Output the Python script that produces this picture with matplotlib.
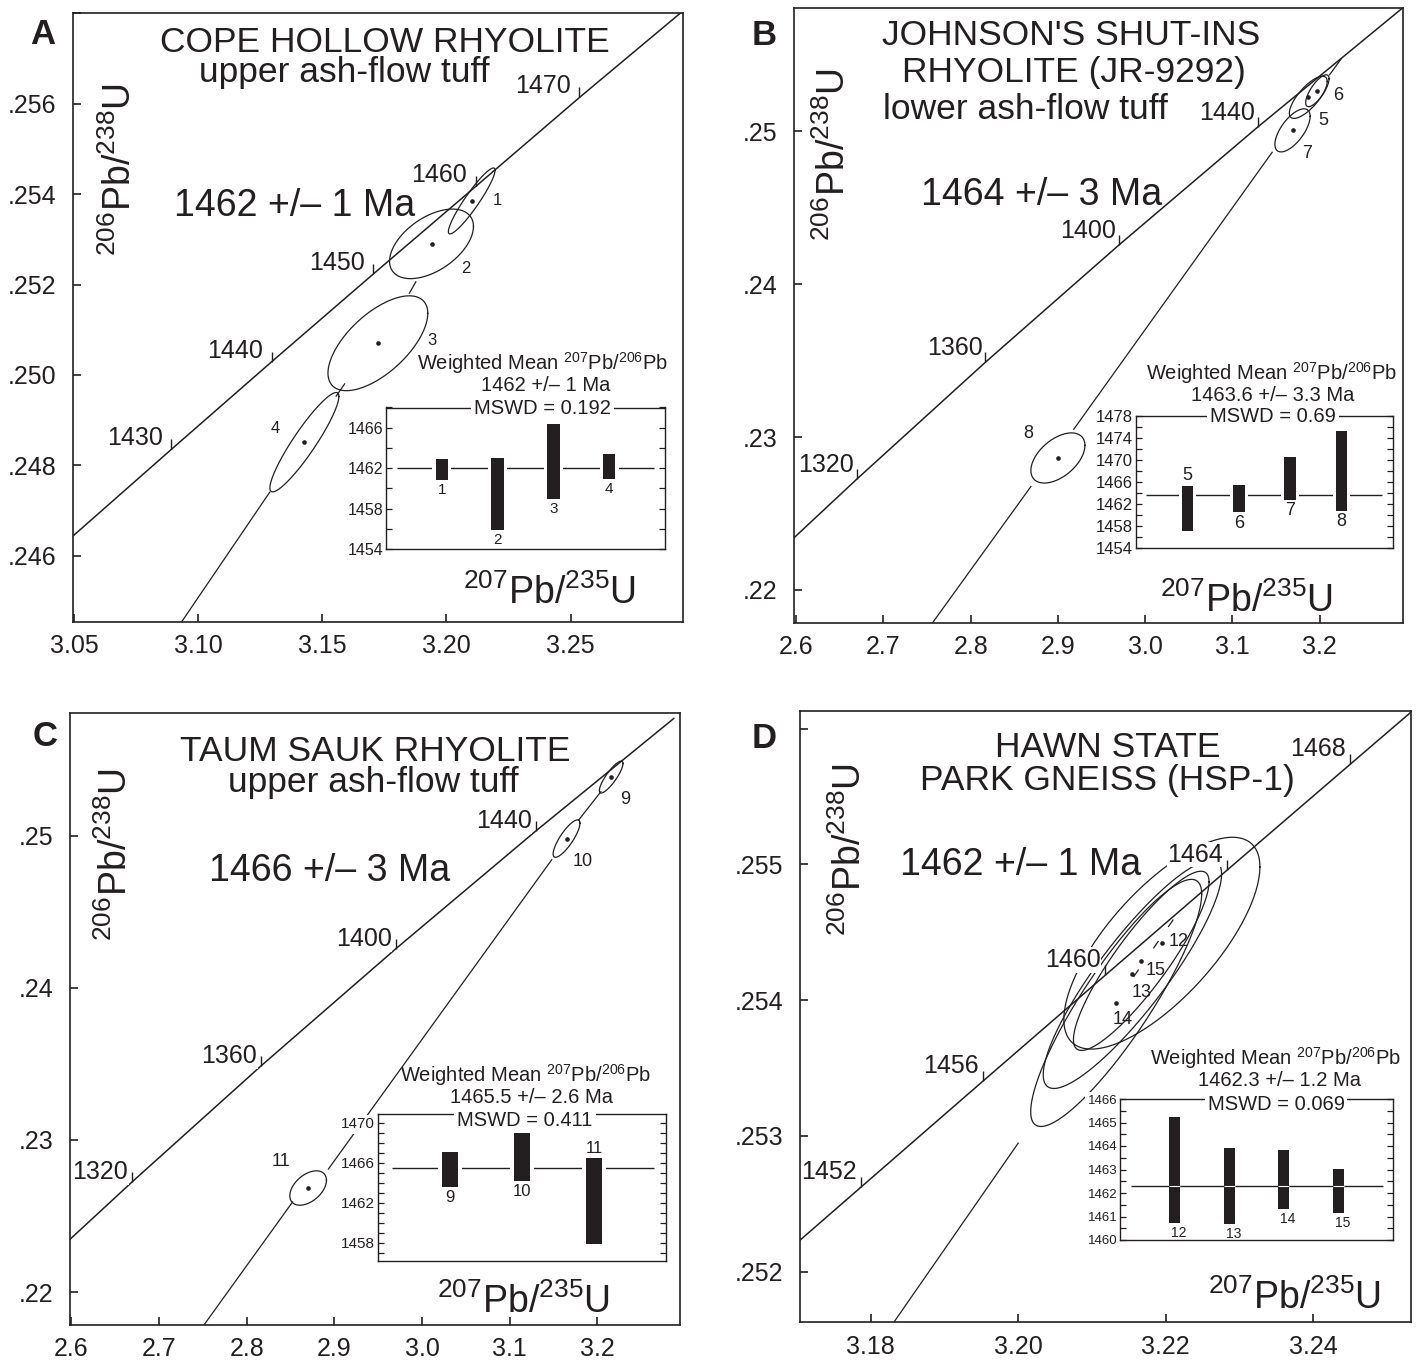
import numpy as np
import matplotlib.pyplot as plt

plt.rcParams['font.family'] = ['Liberation Sans', 'DejaVu Sans']
plt.rcParams['mathtext.fontset'] = 'custom'
plt.rcParams['mathtext.rm'] = 'Liberation Sans'
plt.rcParams['mathtext.it'] = 'Liberation Sans:italic'
plt.rcParams['mathtext.bf'] = 'Liberation Sans:bold'

INK = '#231f20'
W, H = 1419, 1360

# ---------------- A  Cope Hollow Rhyolite ----------------
a_ages = [1430, 1440, 1450, 1460, 1470]
a_age_x = [3.0892, 3.1296, 3.1705, 3.2118, 3.2536]
a_age_y = [0.24835, 0.25029, 0.25223, 0.25417, 0.25614]
a_end_x = [3.0491, 3.2956]
a_end_y = [0.24641, 0.25807]
a_ids = ['1', '2', '3', '4']
a_cx = [3.2102, 3.1940, 3.1724, 3.1428]
a_cy = [0.25385, 0.25290, 0.25070, 0.24851]
a_sx = [0.0094, 0.0169, 0.0201, 0.0139]
a_sy = [0.00073, 0.00077, 0.00105, 0.00110]
a_rho = [0.93, 0.5, 0.63, 0.92]
a_disc_x = [[3.088, 3.1288], [3.1556, 3.1590], [3.1851, 3.1877]]
a_disc_y = [[0.24410, 0.24740], [0.24953, 0.24980], [0.25181, 0.25206]]
a_lo = [1460.8, 1455.9, 1458.9, 1460.9]
a_hi = [1462.9, 1463.0, 1466.4, 1463.4]
a_mean = 1462

# ---------------- B  Johnson's Shut-ins ----------------
b_ages = [1320, 1360, 1400, 1440]
b_age_x = [2.6693, 2.8167, 2.9701, 3.1296]
b_age_y = [0.22724, 0.23488, 0.24256, 0.25029]
b_end_x = [2.5801, 3.2956]
b_end_y = [0.22249, 0.25807]
b_ids = ['5', '6', '7', '8']
b_cx = [3.1871, 3.1975, 3.1690, 2.9000]
b_cy = [0.25221, 0.25264, 0.25005, 0.22863]
b_sx = [0.0217, 0.0134, 0.0202, 0.0310]
b_sy = [0.00138, 0.00104, 0.00141, 0.00164]
b_rho = [0.75, 0.75, 0.65, 0.5]
b_disc_x = [[2.740, 2.8690], [2.9181, 3.1457], [3.2115, 3.2245]]
b_disc_y = [[0.21657, 0.22676], [0.23050, 0.24862], [0.25368, 0.25470]]
b_lo = [1457.1, 1460.5, 1462.8, 1460.8]
b_hi = [1465.3, 1465.4, 1470.6, 1475.2]
b_mean = 1463.6

# ---------------- C  Taum Sauk Rhyolite ----------------
c_ages = [1320, 1360, 1400, 1440]
c_age_x = [2.6693, 2.8167, 2.9701, 3.1296]
c_age_y = [0.22724, 0.23488, 0.24256, 0.25029]
c_end_x = [2.5801, 3.2871]
c_end_y = [0.22249, 0.25769]
c_ids = ['9', '10', '11']
c_cx = [3.2157, 3.1648, 2.8701]
c_cy = [0.25384, 0.24980, 0.22684]
c_sx = [0.0135, 0.0153, 0.0209]
c_sy = [0.00105, 0.00123, 0.00113]
c_rho = [0.85, 0.82, 0.45]
c_disc_x = [[2.740, 2.8523], [2.8931, 3.1479], [3.1785, 3.2040]]
c_disc_y = [[0.21694, 0.22592], [0.22808, 0.24841], [0.25101, 0.25288]]
c_lo = [1463.6, 1464.2, 1457.9]
c_hi = [1467.1, 1469.2, 1466.5]
c_mean = 1465.5

# ---------------- D  Hawn State Park Gneiss ----------------
d_ages = [1452, 1456, 1460, 1464, 1468]
d_age_x = [3.17871, 3.19520, 3.21177, 3.22839, 3.24508]
d_age_y = [0.252625, 0.253403, 0.254182, 0.254960, 0.255739]
d_end_x = [3.16228, 3.26183]
d_end_y = [0.251849, 0.256519]
d_ids = ['12', '13', '14', '15']
d_cx = [3.2195, 3.2155, 3.2133, 3.2167]
d_cy = [0.25442, 0.25419, 0.25398, 0.25429]
d_sx = [0.0133, 0.0121, 0.0116, 0.0092]
d_sy = [0.00078, 0.00084, 0.00091, 0.00066]
d_rho = [0.72, 0.88, 0.88, 0.88]
d_disc_x = [[3.1800, 3.2000], [3.2157, 3.2163], [3.2184, 3.2190], [3.2204, 3.2210]]
d_disc_y = [[0.251383, 0.252947], [0.254175, 0.254222], [0.254386, 0.254433], [0.254543, 0.254590]]
d_lo = [1460.72, 1460.67, 1461.33, 1461.14]
d_hi = [1465.24, 1463.90, 1463.81, 1463.01]
d_mean = 1462.3

YLAB = r'$^{206}$Pb/$^{238}$U'
XLAB = r'$^{207}$Pb/$^{235}$U'
WMEAN = r'Weighted Mean $^{207}$Pb/$^{206}$Pb'

fig = plt.figure(figsize=(W / 100, H / 100), dpi=100)


def box(l, r, t, b):
    return [l / W, 1 - b / H, (r - l) / W, (b - t) / H]


def put(px, py, s, size, **kw):
    kw.setdefault('ha', 'center')
    kw.setdefault('va', 'baseline')
    fig.text(px / W, 1 - py / H, s, fontsize=size, color=INK, **kw)


def frame(rect, xlim, ylim, xt, xl, yt, yl):
    ax = fig.add_axes(rect)
    ax.set_xlim(xlim)
    ax.set_ylim(ylim)
    ax.set_xticks(xt, xl)
    ax.set_yticks(yt, yl)
    ax.tick_params(direction='in', length=6, width=1.2, labelsize=18,
                   colors=INK, top=False, right=False)
    ax.tick_params(axis='x', pad=9)
    ax.tick_params(axis='y', pad=12)
    for s in ax.spines.values():
        s.set_linewidth(1.2)
        s.set_color(INK)
    return ax


tt = np.linspace(0, 2 * np.pi, 300)


def draw_diagram(ax, ages, ax_x, ax_y, ex, ey, cx, cy, sx, sy, rho, dx, dy, off):
    ax.plot([ex[0]] + ax_x + [ex[1]], [ey[0]] + ax_y + [ey[1]], color=INK, lw=1.1, zorder=2)
    ax.plot(ax_x, ax_y, ls='none', marker=2, ms=7, mew=1.0, color=INK, zorder=2)
    for a, x, y in zip(ages, ax_x, ax_y):
        ax.annotate(str(a), (x, y), xytext=off, textcoords='offset points',
                    ha='right', va='baseline', fontsize=18, color=INK, zorder=5,
                    bbox=dict(fc='white', ec='none', pad=0.5))
    for xs, ys in zip(dx, dy):
        ax.plot(xs, ys, color=INK, lw=0.9, zorder=2)
    for x0, y0, a, b, r in zip(cx, cy, sx, sy, rho):
        ax.plot(x0 + a * np.cos(tt), y0 + b * (r * np.cos(tt) + np.sqrt(1 - r * r) * np.sin(tt)),
                color=INK, lw=0.9, zorder=3)
        ax.plot(x0, y0, 'o', ms=2.3, color=INK, zorder=4)


def inset(rect, ylim, yt, minor, lo, hi, mean, ids, xmax, width, line_x,
          tick_fs, id_fs, above=(), cross=False, id_dx=0):
    ax = fig.add_axes(rect)
    ax.set_xlim(0, xmax)
    ax.set_ylim(ylim)
    ax.set_xticks([])
    ax.set_yticks(yt, [str(v) for v in yt])
    ax.set_yticks(minor, minor=True)
    ax.tick_params(axis='y', which='both', direction='in', left=True, right=True,
                   length=4, width=0.9, colors=INK, labelsize=tick_fs, pad=2)
    for lab in ax.get_yticklabels():
        lab.set_bbox(dict(fc='white', ec='none', pad=1.5))
    for s in ax.spines.values():
        s.set_linewidth(1.0)
        s.set_color(INK)
    pos = np.arange(1, len(lo) + 1)
    h = np.array(hi) - np.array(lo)
    ax.hlines(mean, line_x[0], line_x[1], color=INK, lw=1.0, zorder=1)
    if not cross:
        ax.bar(pos, h, bottom=lo, width=width + 0.12, color='white', zorder=2)
    ax.bar(pos, h, bottom=lo, width=width, color=INK, zorder=3)
    if cross:
        ax.hlines([mean] * len(pos), pos - width / 2, pos + width / 2,
                  color='white', lw=0.8, zorder=4)
    for p, s, l, u in zip(pos, ids, lo, hi):
        if s in above:
            ax.annotate(s, (p, u), xytext=(id_dx, 1), textcoords='offset points',
                        ha='center', va='bottom', fontsize=id_fs, color=INK)
        else:
            ax.annotate(s, (p, l), xytext=(id_dx, -2), textcoords='offset points',
                        ha='center', va='top', fontsize=id_fs, color=INK)
    return ax


# ======================= panel A =======================
axA = frame(box(73, 683, 13, 622), (3.0496, 3.2953), (0.24453, 0.25801),
            [3.05, 3.10, 3.15, 3.20, 3.25], ['3.05', '3.10', '3.15', '3.20', '3.25'],
            [0.246, 0.248, 0.250, 0.252, 0.254, 0.256, 0.258],
            ['.246', '.248', '.250', '.252', '.254', '.256', ''])
draw_diagram(axA, a_ages, a_age_x, a_age_y, a_end_x, a_end_y, a_cx, a_cy, a_sx, a_sy,
             a_rho, a_disc_x, a_disc_y, (-6, 3))
for s, x, y in zip(a_ids, [3.2206, 3.2080, 3.1941, 3.1310], [0.25386, 0.25236, 0.25077, 0.24882]):
    axA.text(x, y, s, fontsize=12, color=INK, ha='center', va='center')
put(43, 43.5, 'A', 25, fontweight='bold')
put(385, 52, 'COPE HOLLOW RHYOLITE', 25.5)
put(344, 82, 'upper ash-flow tuff', 25.5)
put(295, 216, '1462 +/\u2013 1 Ma', 27)
put(120, 170, YLAB, 27, rotation=90, va='center')
put(549, 593, XLAB, 27, va='center')
inset(box(386, 665, 407.5, 549), (1454, 1468), [1454, 1458, 1462, 1466],
      np.arange(1454, 1469, 2), a_lo, a_hi, a_mean, a_ids, 5, 0.22, (0.2, 4.8), 11.5, 11)
put(543, 363, WMEAN, 14.5, va='center')
put(546, 385.5, '1462 +/\u2013 1 Ma', 14.5, va='center')
put(542.5, 408, 'MSWD = 0.192', 14.5, va='center', bbox=dict(fc='white', ec='none', pad=2))

# ======================= panel B =======================
axB = frame(box(794, 1403, 8, 623), (2.5974, 3.2957), (0.21784, 0.25805),
            [2.6, 2.7, 2.8, 2.9, 3.0, 3.1, 3.2], ['2.6', '2.7', '2.8', '2.9', '3.0', '3.1', '3.2'],
            [0.22, 0.23, 0.24, 0.25], ['.22', '.23', '.24', '.25'])
draw_diagram(axB, b_ages, b_age_x, b_age_y, b_end_x, b_end_y, b_cx, b_cy, b_sx, b_sy,
             b_rho, b_disc_x, b_disc_y, (-2, 5))
for s, x, y in zip(b_ids, [3.2042, 3.2218, 3.1855, 2.8664], [0.25069, 0.25230, 0.24856, 0.23021]):
    axB.text(x, y, s, fontsize=13, color=INK, ha='center', va='center')
put(764, 45, 'B', 25, fontweight='bold')
put(1071, 45, "JOHNSON'S SHUT-INS", 25.5)
put(1074, 82, 'RHYOLITE (JR-9292)', 25.5)
put(1025, 119, 'lower ash-flow tuff', 25.5)
put(1042, 205, '1464 +/\u2013 3 Ma', 27)
put(834, 155, YLAB, 27, rotation=90, va='center')
put(1246, 601, XLAB, 27, va='center')
inset(box(1136, 1393, 416, 548), (1454, 1478), list(range(1454, 1479, 4)),
      np.arange(1454, 1479, 2), b_lo, b_hi, b_mean, b_ids, 5, 0.225, (0.2, 4.78), 12, 13,
      above=('5',))
put(1272, 373, WMEAN, 14.5, va='center')
put(1273, 395, '1463.6 +/\u2013 3.3 Ma', 14.5, va='center')
put(1273, 417, 'MSWD = 0.69', 14.5, va='center', bbox=dict(fc='white', ec='none', pad=2))

# ======================= panel C =======================
axC = frame(box(70, 680, 713, 1325), (2.5985, 3.2942), (0.21784, 0.25805),
            [2.6, 2.7, 2.8, 2.9, 3.0, 3.1, 3.2], ['2.6', '2.7', '2.8', '2.9', '3.0', '3.1', '3.2'],
            [0.22, 0.23, 0.24, 0.25], ['.22', '.23', '.24', '.25'])
draw_diagram(axC, c_ages, c_age_x, c_age_y, c_end_x, c_end_y, c_cx, c_cy, c_sx, c_sy,
             c_rho, c_disc_x, c_disc_y, (-3, 2))
for s, x, y in zip(c_ids, [3.232, 3.1836, 2.8396], [0.25236, 0.24827, 0.22857]):
    axC.text(x, y, s, fontsize=13, color=INK, ha='center', va='center')
put(45, 746, 'C', 25, fontweight='bold')
put(375, 761, 'TAUM SAUK RHYOLITE', 25.5)
put(373, 792, 'upper ash-flow tuff', 25.5)
put(330, 881, '1466 +/\u2013 3 Ma', 27)
put(116, 855, YLAB, 27, rotation=90, va='center')
put(523, 1302, XLAB, 27, va='center')
inset(box(378, 666, 1114, 1261), (1456.15, 1470.9), [1458, 1462, 1466, 1470],
      np.arange(1457, 1471, 1), c_lo, c_hi, c_mean, c_ids, 4, 0.21, (0.2, 3.83), 11, 12,
      above=('11',))
put(526, 1075, WMEAN, 14.5, va='center')
put(531, 1097.5, '1465.5 +/\u2013 2.6 Ma', 14.5, va='center')
put(525, 1121, 'MSWD = 0.411', 14.5, va='center', bbox=dict(fc='white', ec='none', pad=2))

# ======================= panel D =======================
axD = frame(box(800, 1411, 711, 1322), (3.1704, 3.2533), (0.25163, 0.25613),
            [3.18, 3.20, 3.22, 3.24], ['3.18', '3.20', '3.22', '3.24'],
            [0.252, 0.253, 0.254, 0.255, 0.256], ['.252', '.253', '.254', '.255', ''])
draw_diagram(axD, d_ages, d_age_x, d_age_y, d_end_x, d_end_y, d_cx, d_cy, d_sx, d_sy,
             d_rho, d_disc_x, d_disc_y, (-3, 6))
for s, x, y in zip(d_ids, [3.22177, 3.21676, 3.21413, 3.21871], [0.25443, 0.25406, 0.25386, 0.25422]):
    axD.text(x, y, s, fontsize=13, color=INK, ha='center', va='center')
put(764, 748, 'D', 25, fontweight='bold')
put(1108, 757, 'HAWN STATE', 25.5)
put(1107, 790, 'PARK GNEISS (HSP-1)', 25.5)
put(1021, 875, '1462 +/\u2013 1 Ma', 27)
put(850, 850, YLAB, 27, rotation=90, va='center')
put(1294, 1298, XLAB, 27, va='center')
inset(box(1120, 1393, 1099, 1240), (1460, 1466), list(range(1460, 1467)),
      np.arange(1460, 1466.01, 0.5), d_lo, d_hi, d_mean, d_ids, 5, 0.2, (0.2, 4.81), 9.5, 10,
      cross=True, id_dx=3)
put(1276, 1058, WMEAN, 14.5, va='center')
put(1280, 1081, '1462.3 +/\u2013 1.2 Ma', 14.5, va='center')
put(1276, 1104, 'MSWD = 0.069', 14.5, va='center', bbox=dict(fc='white', ec='none', pad=2))

fig.savefig('out.png', dpi=100, facecolor='white')
